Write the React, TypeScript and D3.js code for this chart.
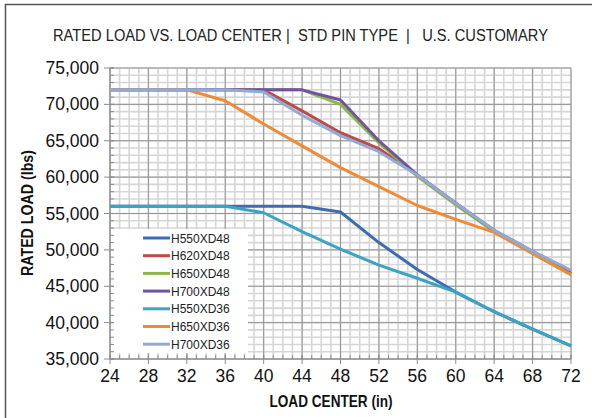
import React from 'react';
import * as d3 from 'd3';

// data (load center in inches, rated load in lbs)
const loadCenter = [24, 28, 32, 36, 40, 44, 48, 52, 56, 60, 64, 68, 72];
const h550xd48 = [56000, 56000, 56000, 56000, 56000, 56000, 55200, 51000, 47300, 44200, 41500, 39100, 36800];
const h620xd48 = [72000, 72000, 72000, 72000, 72000, 69100, 66100, 63900, 60300, 56400, 52600, 49600, 46700];
const h650xd48 = [72000, 72000, 72000, 72000, 72000, 72000, 70000, 64700, 60100, 56200, 52500, 49500, 46600];
const h700xd48 = [72000, 72000, 72000, 72000, 72000, 72000, 70600, 65000, 60300, 56400, 52700, 49800, 47100];
const h550xd36 = [56000, 56000, 56000, 56000, 55100, 52500, 50100, 47900, 46100, 44200, 41500, 39100, 36800];
const h650xd36 = [72000, 72000, 72000, 70500, 67300, 64300, 61300, 58700, 56100, 54200, 52400, 49500, 46600];
const h700xd36 = [72000, 72000, 72000, 72000, 71700, 68500, 65700, 63500, 60300, 56400, 52700, 49800, 47200];

const seriesNames = ['H550XD48', 'H620XD48', 'H650XD48', 'H700XD48', 'H550XD36', 'H650XD36', 'H700XD36'];
const seriesValues = [h550xd48, h620xd48, h650xd48, h700xd48, h550xd36, h650xd36, h700xd36];
const seriesColors = ['#3D6CB0', '#BE4B48', '#8DB849', '#7352A0', '#3CA3C3', '#F08A35', '#91AAD6'];

const titleText = 'RATED LOAD VS. LOAD CENTER |  STD PIN TYPE  |   U.S. CUSTOMARY';
const xTitle = 'LOAD CENTER (in)';
const yTitle = 'RATED LOAD (lbs)';

const width = 592;
const height = 418;
const margins = { top: 68, right: 21, bottom: 59, left: 110 };

const narrow = "'Liberation Sans Narrow', 'Arial Narrow', 'Liberation Sans', Arial, sans-serif";
const sans = "'Liberation Sans', Arial, sans-serif";

const App = () => {
    const xScale = d3.scaleLinear()
        .domain([24, 72])
        .range([margins.left, width - margins.right]);

    const yScale = d3.scaleLinear()
        .domain([35000, 75000])
        .range([height - margins.bottom, margins.top]);

    const [x0, x1] = xScale.range();
    const [y0, y1] = yScale.range();

    const xMajor = d3.range(24, 73, 4);
    const xMinor = d3.range(24, 73, 1);
    const yMajor = d3.range(35000, 75001, 5000);
    const yMinor = d3.range(35000, 75001, 1000);
    const fmt = d3.format(',');

    const line = d3.line<number>()
        .x((d, i) => xScale(loadCenter[i]))
        .y((d) => yScale(d));

    // legend box
    const lg = { x: 111, y: 229, w: 137, h: 124, first: 238, step: 17.7 };

    return (
        <svg width={width} height={height} style={{ position: 'absolute', left: 0, top: 0 }}>
            <rect x={0} y={0} width={width} height={height} fill="#fff" />
            <rect x={5.5} y={4.5} width={620} height={440} fill="none" stroke="#555" strokeWidth={1.5} />

            <text x={300.5} y={40.5} textAnchor="middle" fontFamily={narrow} fontSize={16} fill="#222"
                textLength={495} lengthAdjust="spacingAndGlyphs" style={{ whiteSpace: 'pre' }}>{titleText}</text>

            {/* grid */}
            <g>
                {xMinor.map(v => <line key={'xm' + v} x1={xScale(v)} x2={xScale(v)} y1={y0} y2={y1} stroke="#D6D6D6" strokeWidth={1.6} />)}
                {yMinor.map(v => <line key={'ym' + v} x1={x0} x2={x1} y1={yScale(v)} y2={yScale(v)} stroke="#D6D6D6" strokeWidth={1.6} />)}
                {xMajor.map(v => <line key={'xM' + v} x1={xScale(v)} x2={xScale(v)} y1={y0} y2={y1} stroke="#959595" strokeWidth={1} />)}
                {yMajor.map(v => <line key={'yM' + v} x1={x0} x2={x1} y1={yScale(v)} y2={yScale(v)} stroke="#959595" strokeWidth={1} />)}
            </g>

            {/* legend */}
            <rect x={lg.x} y={lg.y} width={lg.w} height={lg.h} fill="#fff" />
            {seriesNames.map((name, i) => (
                <g key={name} transform={`translate(0,${lg.first + i * lg.step})`}>
                    <line x1={143} x2={170} y1={0} y2={0} stroke={seriesColors[i]} strokeWidth={3} />
                    <text x={171} y={4.5} fontFamily={sans} fontSize={12} fill="#222">{name}</text>
                </g>
            ))}

            {/* axes */}
            <g stroke="#8C8C8C" strokeWidth={1}>
                <line x1={x0} x2={x0} y1={y0} y2={y1} />
                <line x1={x0} x2={x1} y1={y0} y2={y0} />
                {xMinor.map(v => <line key={'xt' + v} x1={xScale(v)} x2={xScale(v)} y1={y0} y2={y0 - 4} />)}
                {yMinor.map(v => <line key={'yt' + v} x1={x0} x2={x0 + 4} y1={yScale(v)} y2={yScale(v)} />)}
                {xMajor.map(v => <line key={'xT' + v} x1={xScale(v)} x2={xScale(v)} y1={y0 - 4} y2={y0 + 5} />)}
                {yMajor.map(v => <line key={'yT' + v} x1={x0 - 6} x2={x0 + 4} y1={yScale(v)} y2={yScale(v)} />)}
            </g>
            <g fontFamily={sans} fontSize={17.5} fill="#111">
                {xMajor.map(v => <text key={'xl' + v} x={xScale(v)} y={y0 + 23} textAnchor="middle">{v}</text>)}
                {yMajor.map(v => <text key={'yl' + v} x={x0 - 11} y={yScale(v) + 6} textAnchor="end">{fmt(v)}</text>)}
            </g>

            <text x={331} y={407} textAnchor="middle" fontFamily={narrow} fontWeight="bold" fontSize={16.5} fill="#111"
                textLength={123} lengthAdjust="spacingAndGlyphs">{xTitle}</text>
            <text transform="translate(33,213)rotate(-90)" textAnchor="middle" fontFamily={narrow} fontWeight="bold" fontSize={16.5} fill="#111"
                textLength={126} lengthAdjust="spacingAndGlyphs">{yTitle}</text>

            {/* series */}
            {seriesValues.map((vals, i) => (
                <path key={seriesNames[i]} d={line(vals) || ''} fill="none" stroke={seriesColors[i]} strokeWidth={3} strokeLinejoin="round" />
            ))}
        </svg>
    );
};

export default App;
